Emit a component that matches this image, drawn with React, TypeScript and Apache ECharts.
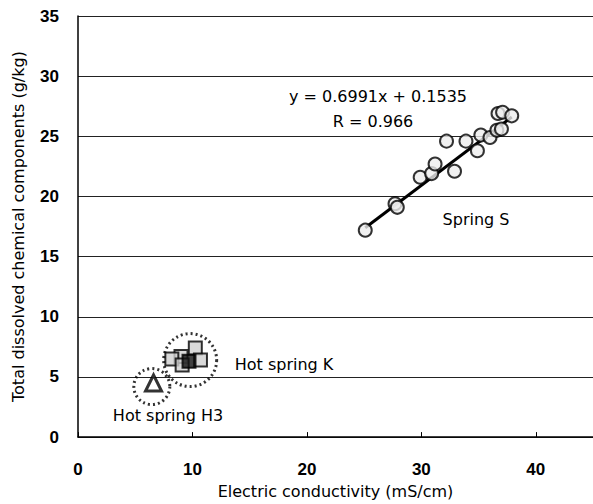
import React, { useEffect, useRef } from "react";
import * as echarts from "echarts";

// Spring S (circles)
const springSX = [25.1, 27.7, 27.9, 29.9, 30.9, 31.2, 32.9, 32.2, 33.9, 34.9, 35.2, 36.0, 36.6, 37.0, 36.7, 37.1, 37.9];
const springSY = [17.2, 19.4, 19.1, 21.6, 21.9, 22.7, 22.1, 24.6, 24.6, 23.8, 25.1, 24.9, 25.5, 25.6, 26.9, 27.0, 26.7];
// Regression line endpoints (y = 0.6991x + 0.1535)
const trendX = [25.1, 37.9];
const trendY = [17.4, 26.6];
// Hot spring K (squares)
const hotKX = [10.25, 9.0, 8.2, 9.1, 10.7];
const hotKY = [7.4, 6.7, 6.5, 6.0, 6.4];
const hotKDarkX = [9.7];
const hotKDarkY = [6.3];
// Hot spring H3 (triangle)
const hotH3X = [6.6];
const hotH3Y = [4.5];
// Dotted enclosing circles (centres)
const ringKX = [9.8];
const ringKY = [6.4];
const ringH3X = [6.45];
const ringH3Y = [4.2];

const xTicks = { min: 0, max: 45, interval: 10 };
const yTicks = { min: 0, max: 35, interval: 5 };

const pairs = (xs: number[], ys: number[]) => xs.map((x, i) => [x, ys[i]]);

const FONT = "DejaVu Sans";
const TICKFONT = "Liberation Sans";

export default function App() {
  const ref = useRef<HTMLDivElement>(null);
  useEffect(() => {
    if (!ref.current) return;
    const chart = echarts.init(ref.current, null, { renderer: "svg" });
    const txt = (text: string, x: number, y: number) => ({
      type: "text",
      x,
      y,
      style: { text, align: "center", verticalAlign: "middle", fontFamily: FONT, fontSize: 16, fill: "#000" },
      z: 100,
    });
    chart.setOption({
      animation: false,
      backgroundColor: "#fff",
      grid: { left: 78, top: 16, right: -8, bottom: 61, containLabel: false },
      xAxis: {
        type: "value",
        min: xTicks.min,
        max: xTicks.max,
        interval: xTicks.interval,
        name: "Electric conductivity (mS/cm)",
        nameLocation: "middle",
        nameGap: 45,
        nameTextStyle: { fontFamily: FONT, fontSize: 16, color: "#000" },
        axisLine: { show: true, lineStyle: { color: "#000", width: 1.5 } },
        axisTick: { show: true, inside: true, length: 5, lineStyle: { color: "#000" } },
        axisLabel: { fontFamily: TICKFONT, fontSize: 17, fontWeight: "bold", color: "#000", margin: 24, showMaxLabel: false },
        splitLine: { show: false },
      },
      yAxis: {
        type: "value",
        min: yTicks.min,
        max: yTicks.max,
        interval: yTicks.interval,
        name: "Total dissolved chemical components (g/kg)",
        nameLocation: "middle",
        nameGap: 52,
        nameTextStyle: { fontFamily: FONT, fontSize: 16, color: "#000" },
        axisLine: { show: true, lineStyle: { color: "#000", width: 1.5 } },
        axisTick: { show: false },
        axisLabel: { fontFamily: TICKFONT, fontSize: 17, fontWeight: "bold", color: "#000", margin: 19 },
        splitLine: { show: true, lineStyle: { color: "#222", width: 1 } },
      },
      series: [
        {
          type: "line",
          data: pairs(trendX, trendY),
          symbol: "none",
          lineStyle: { color: "#000", width: 3 },
          z: 3,
        },
        {
          type: "scatter",
          data: pairs(springSX, springSY),
          symbol: "circle",
          symbolSize: 13,
          itemStyle: { color: "#ededed", borderColor: "#000", borderWidth: 2 },
          z: 4,
        },
        {
          type: "scatter",
          data: pairs(hotKX, hotKY),
          symbol: "rect",
          symbolSize: 13,
          itemStyle: { color: "#cfcfcf", borderColor: "#000", borderWidth: 2 },
          z: 4,
        },
        {
          type: "scatter",
          data: pairs(hotKDarkX, hotKDarkY),
          symbol: "rect",
          symbolSize: 13,
          itemStyle: { color: "#111", borderColor: "#000", borderWidth: 2 },
          z: 5,
        },
        {
          type: "scatter",
          data: pairs(hotH3X, hotH3Y),
          symbol: "triangle",
          symbolSize: 16,
          itemStyle: { color: "#fff", borderColor: "#000", borderWidth: 3 },
          z: 5,
        },
        {
          type: "scatter",
          data: pairs(ringKX, ringKY),
          symbol: "circle",
          symbolSize: 53,
          itemStyle: { color: "transparent", borderColor: "#000", borderWidth: 3, borderType: [2, 3] },
          z: 6,
        },
        {
          type: "scatter",
          data: pairs(ringH3X, ringH3Y),
          symbol: "circle",
          symbolSize: 36,
          itemStyle: { color: "transparent", borderColor: "#000", borderWidth: 3, borderType: [2, 3] },
          z: 6,
        },
      ],
      graphic: [
        txt("y = 0.6991x + 0.1535", 378, 96),
        txt("R = 0.966", 373, 121),
        txt("Spring S", 476, 219),
        txt("Hot spring K", 284, 364),
        txt("Hot spring H3", 168, 415),
      ],
    });
    return () => chart.dispose();
  }, []);
  return <div ref={ref} style={{ width: 593, height: 504, position: "absolute", left: 0, top: 0 }} />;
}
